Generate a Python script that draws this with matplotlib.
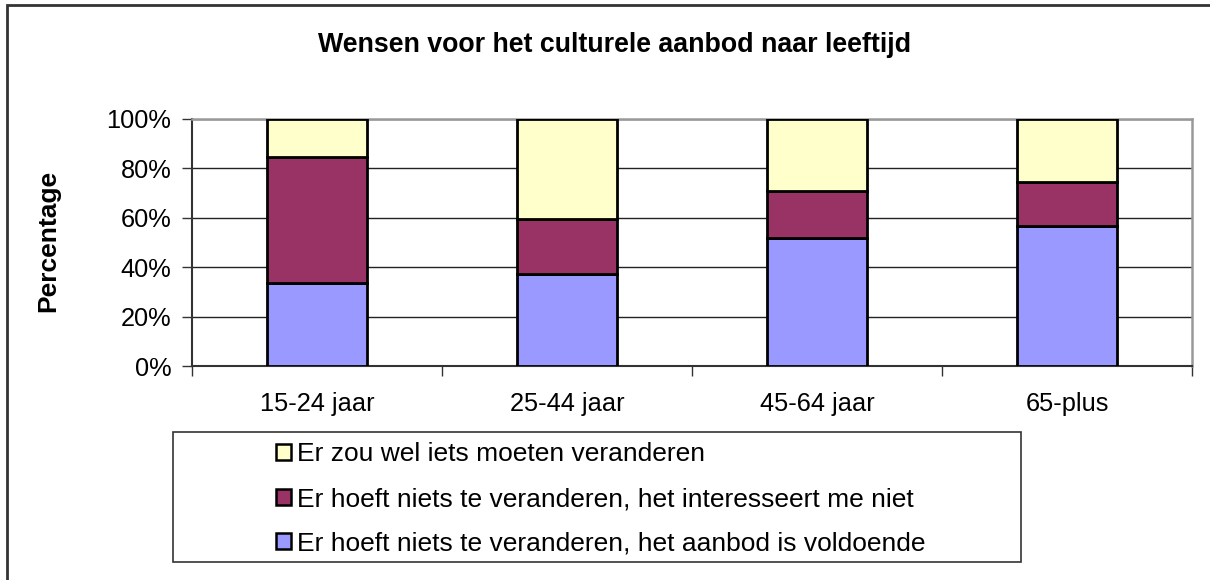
import matplotlib
matplotlib.use("Agg")
import matplotlib.pyplot as plt
from matplotlib.patches import Rectangle, Patch
from matplotlib.ticker import FixedLocator, PercentFormatter
import numpy as np

categories = ["15-24 jaar", "25-44 jaar", "45-64 jaar", "65-plus"]
voldoende = [33.7, 37.1, 51.7, 56.7]
interesseert_niet = [51.0, 22.3, 19.2, 17.8]
veranderen = [15.3, 40.6, 29.1, 25.5]
series_labels = [
    "Er hoeft niets te veranderen, het aanbod is voldoende",
    "Er hoeft niets te veranderen, het interesseert me niet",
    "Er zou wel iets moeten veranderen",
]
title = "Wensen voor het culturele aanbod naar leeftijd"
ylabel = "Percentage"
yticks = [0, 20, 40, 60, 80, 100]

colors = ["#9999FF", "#993366", "#FFFFCC"]

plt.rcParams["font.family"] = ["Liberation Sans", "DejaVu Sans"]

W, H = 1210, 580
fig = plt.figure(figsize=(W / 100, H / 100), dpi=100)

def fx(px):
    return px / W

def fy(py):
    return 1 - py / H

# outer chart border (only top/left visible in the reference)
fig.add_artist(Rectangle((fx(7), fy(700)), fx(1400), fy(5) - fy(700), transform=fig.transFigure,
                         fill=False, edgecolor="#333333", linewidth=2.0))

ax = fig.add_axes([fx(192), fy(366), fx(1192) - fx(192), fy(119) - fy(366)])
x = np.arange(len(categories))
width = 0.4
bottom = np.zeros(len(categories))
series = [voldoende, interesseert_niet, veranderen]
for vals, col, lab in zip(series, colors, series_labels):
    ax.bar(x, vals, width, bottom=bottom, color=col, edgecolor="black", linewidth=2.0,
           label=lab, zorder=3)
    bottom += np.array(vals)

ax.set_xlim(-0.5, len(categories) - 0.5)
ax.set_ylim(0, 100)
ax.set_yticks(yticks)
ax.yaxis.set_major_formatter(PercentFormatter(decimals=0))
ax.grid(axis="y", color="#222222", linewidth=1.0, zorder=0)

ax.xaxis.set_major_locator(FixedLocator(np.arange(len(categories) + 1) - 0.5))
ax.xaxis.set_minor_locator(FixedLocator(x))
ax.set_xticklabels([], minor=False)
ax.set_xticklabels(categories, minor=True)
ax.tick_params(axis="x", which="major", length=7, width=1, color="#333333", direction="out")
ax.tick_params(axis="x", which="minor", length=0, pad=19, labelsize=18.3)
ax.tick_params(axis="y", length=7, width=1, color="#333333", direction="out", pad=8, labelsize=18.3)

for s in ["top", "right"]:
    ax.spines[s].set_color("#999999")
    ax.spines[s].set_linewidth(1.8)
for s in ["left", "bottom"]:
    ax.spines[s].set_color("#333333")
    ax.spines[s].set_linewidth(1.5)

fig.text(fx(615), fy(45), title, ha="center", va="center", fontsize=19.3, fontweight="bold")
fig.text(fx(48), fy(241), ylabel, ha="center", va="center", rotation=90, fontsize=19,
         fontweight="bold")

# legend box
lx0, ly0, lx1, ly1 = 173, 432, 1021, 562
fig.add_artist(Rectangle((fx(lx0), fy(ly1)), fx(lx1) - fx(lx0), fy(ly0) - fy(ly1),
                         transform=fig.transFigure, fill=True, facecolor="white",
                         edgecolor="#333333", linewidth=1.2))
handles = [Patch(facecolor=c, edgecolor="black", linewidth=1.8) for c in colors]
leg = fig.legend(handles[::-1], series_labels[::-1], loc="center",
                 bbox_to_anchor=(fx((lx0 + lx1) / 2 + 4), fy(499)),
                 frameon=False, fontsize=19, handlelength=0.55, handleheight=0.55,
                 handletextpad=0.25, labelspacing=0.78, borderpad=0)

fig.savefig("out.png", dpi=100, facecolor="white")
